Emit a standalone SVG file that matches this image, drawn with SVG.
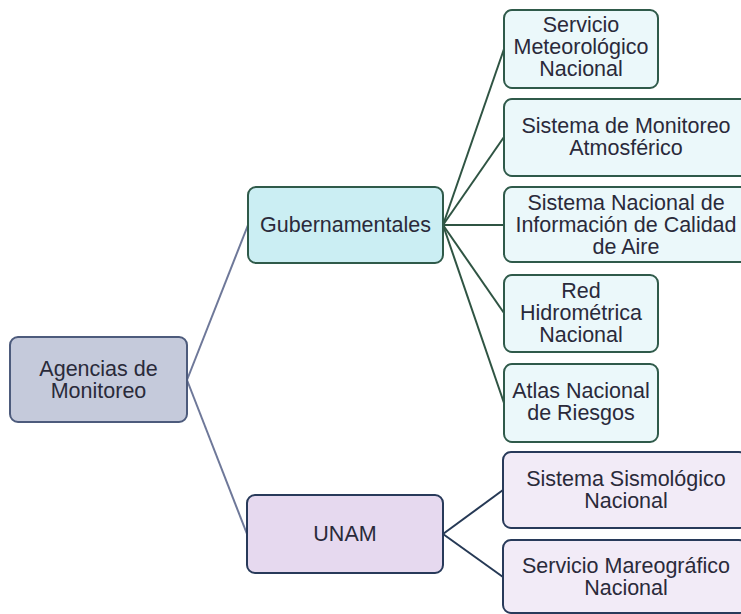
<svg xmlns="http://www.w3.org/2000/svg" width="741" height="614" viewBox="0 0 741 614">
<style>
text{font-family:"Liberation Sans",Arial,sans-serif;font-size:21.5px;fill:#2a2a3a;text-anchor:middle}
rect{stroke-width:2}
.root{fill:#c5cadb;stroke:#4d5b7c}
.gov{fill:#cbeef3;stroke:#2f5a4a}
.govc{fill:#ebf8fa;stroke:#2f5a4a}
.unam{fill:#e6d9ef;stroke:#283a5a}
.unamc{fill:#f2ebf7;stroke:#283a5a}
.c line{stroke-width:2;fill:none}
</style>
<rect width="741" height="614" fill="#ffffff"/>
<g class="c" id="connectors">
<line x1="187" y1="380" x2="248" y2="225" stroke="#6e7899"/>
<line x1="187" y1="380" x2="247" y2="534" stroke="#6e7899"/>
<line x1="443" y1="225" x2="504" y2="49" stroke="#2f5443"/>
<line x1="443" y1="225" x2="504" y2="137" stroke="#2f5443"/>
<line x1="443" y1="225" x2="504" y2="225" stroke="#2f5443"/>
<line x1="443" y1="225" x2="504" y2="313" stroke="#2f5443"/>
<line x1="443" y1="225" x2="504" y2="403" stroke="#2f5443"/>
<line x1="443" y1="534" x2="503" y2="490" stroke="#263955"/>
<line x1="443" y1="534" x2="503" y2="577" stroke="#263955"/>
</g>
<g id="root"><rect class="root" x="10" y="337" width="177" height="85" rx="8"/>
<text x="98.5" y="376">Agencias de</text><text x="98.5" y="398">Monitoreo</text></g>
<g id="gubernamentales"><rect class="gov" x="248" y="187" width="195" height="76" rx="8"/>
<text x="345.5" y="232">Gubernamentales</text></g>
<g id="unam"><rect class="unam" x="247" y="495" width="196" height="78" rx="8"/>
<text x="345" y="541">UNAM</text></g>
<g id="smn"><rect class="govc" x="504" y="10" width="154" height="78" rx="8"/>
<text x="581" y="32">Servicio</text><text x="581" y="54">Meteorológico</text><text x="581" y="76">Nacional</text></g>
<g id="sma"><rect class="govc" x="504" y="99" width="244" height="77" rx="8"/>
<text x="626" y="133">Sistema de Monitoreo</text><text x="626" y="155">Atmosférico</text></g>
<g id="sinaica"><rect class="govc" x="504" y="187" width="244" height="75" rx="8"/>
<text x="626" y="210">Sistema Nacional de</text><text x="626" y="232">Información de Calidad</text><text x="626" y="254">de Aire</text></g>
<g id="rhn"><rect class="govc" x="504" y="275" width="154" height="77" rx="8"/>
<text x="581" y="298">Red</text><text x="581" y="320">Hidrométrica</text><text x="581" y="342">Nacional</text></g>
<g id="anr"><rect class="govc" x="504" y="364" width="154" height="78" rx="8"/>
<text x="581" y="398">Atlas Nacional</text><text x="581" y="420">de Riesgos</text></g>
<g id="ssn"><rect class="unamc" x="503" y="452" width="244" height="76" rx="8"/>
<text x="626" y="486">Sistema Sismológico</text><text x="626" y="508">Nacional</text></g>
<g id="smar"><rect class="unamc" x="503" y="540" width="244" height="73" rx="8"/>
<text x="626" y="573">Servicio Mareográfico</text><text x="626" y="595">Nacional</text></g>
</svg>
